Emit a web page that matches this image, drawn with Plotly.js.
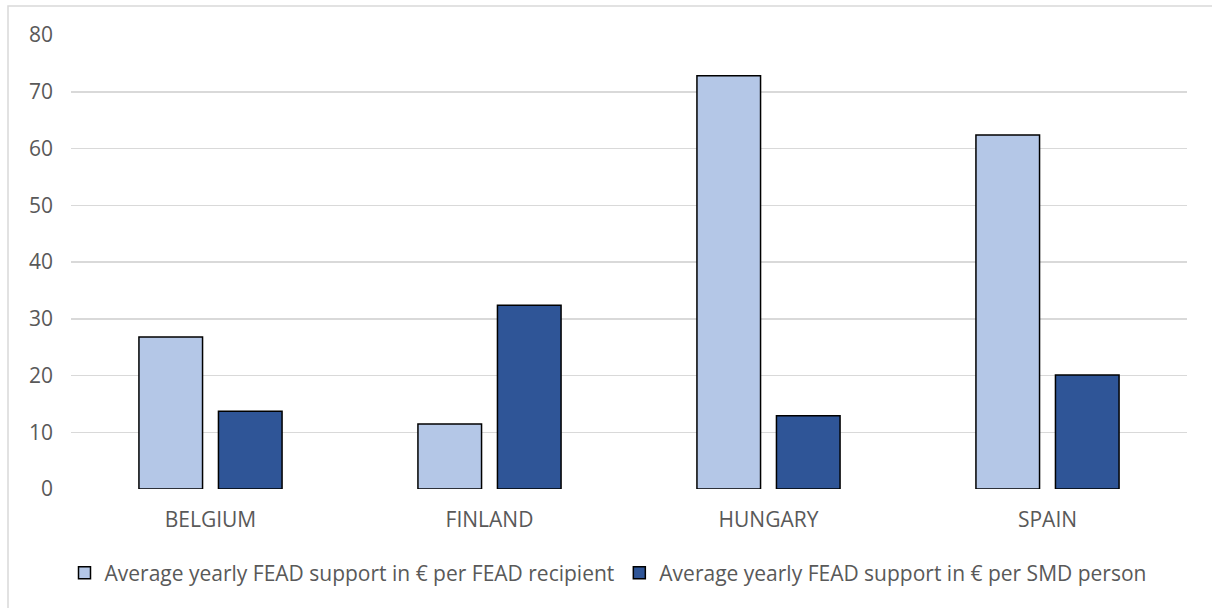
<!DOCTYPE html>
<html>
<head>
<meta charset="utf-8">
<script src="https://cdn.plot.ly/plotly-3.0.1.min.js"></script>
<style>html,body{margin:0;padding:0;background:#fff;}#chart{width:1212px;height:608px;}</style>
</head>
<body>
<div id="chart"></div>
<script>
const categories = ["BELGIUM", "FINLAND", "HUNGARY", "SPAIN"];
const seriesNames = ["Average yearly FEAD support in € per FEAD recipient", "Average yearly FEAD support in € per SMD person"];
const perRecipient = [26.8, 11.45, 72.8, 62.4];
const perSMDPerson = [13.7, 32.4, 12.9, 20.1];
const yTicks = [0, 10, 20, 30, 40, 50, 60, 70, 80];

const W = 1212, H = 608;
const m = {l: 71, r: 25, t: 35, b: 119};
const pw = W - m.l - m.r, ph = H - m.t - m.b;
const px = x => (x - m.l) / pw;
const py = y => (H - m.b - y) / ph;

const font = {family: "Open Sans, sans-serif", color: "#595959"};

const traces = [
  {type: "bar", name: seriesNames[0], x: categories, y: perRecipient,
   marker: {color: "#B4C7E7", line: {color: "#000000", width: 1.5}}},
  {type: "bar", name: seriesNames[1], x: categories, y: perSMDPerson,
   marker: {color: "#2F5597", line: {color: "#000000", width: 1.5}}}
];

const layout = {
  width: W, height: H,
  margin: m,
  paper_bgcolor: "#ffffff", plot_bgcolor: "#ffffff",
  barmode: "group", bargap: 0.43, bargroupgap: 0.2,
  showlegend: true,
  legend: {orientation: "h", x: px(608), xanchor: "center", y: py(573), yanchor: "middle",
           font: Object.assign({size: 21}, font), itemwidth: 30, traceorder: "normal"},
  xaxis: {type: "category", showgrid: false, zeroline: false, showline: false,
          ticks: "", tickfont: Object.assign({size: 21}, font), ticklabelstandoff: 16},
  yaxis: {range: [0, 80], tickvals: yTicks, showgrid: true, gridcolor: "#D9D9D9", gridwidth: 1.5,
          zeroline: false, showline: false, ticks: "", tickfont: Object.assign({size: 21}, font),
          ticklabelstandoff: 17},
  shapes: [
    {type: "rect", xref: "paper", yref: "paper", x0: px(8), x1: px(1230), y0: py(6), y1: py(620),
     line: {color: "#D9D9D9", width: 1.5}, fillcolor: "rgba(0,0,0,0)", layer: "below"}
  ]
};

Plotly.newPlot("chart", traces, layout, {staticPlot: true, displayModeBar: false});
</script>
</body>
</html>
